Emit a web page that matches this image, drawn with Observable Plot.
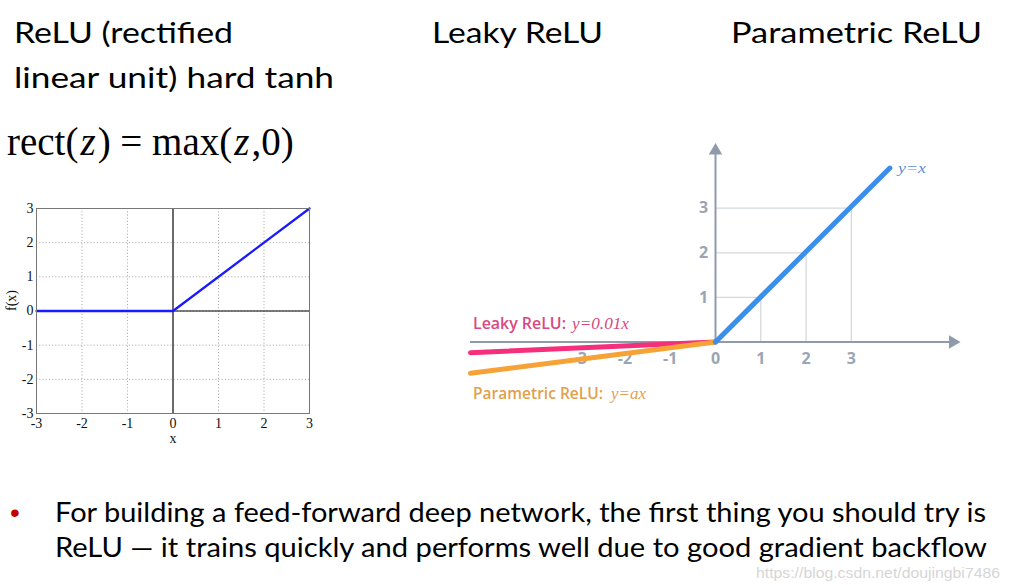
<!DOCTYPE html>
<html><head><meta charset="utf-8">
<script src="https://cdn.jsdelivr.net/npm/d3@7"></script>
<script src="https://cdn.jsdelivr.net/npm/@observablehq/plot@0.6"></script>
<style>
html,body{margin:0;padding:0;background:#fff;}
#slide{position:relative;width:1012px;height:585px;overflow:hidden;background:#fff;}
#slide > svg{position:absolute;margin:0;}
</style></head><body><div id="slide"></div>
<script>
// ---- data ----
const reluX = [-3, 0, 3];
const reluY = [0, 0, 3];
const reluTicks = [-3, -2, -1, 0, 1, 2, 3];

const identityX = [0, 3.85];
const identityY = [0, 3.9];
const leakyX = [-5.41, 0];
const leakyY = [-0.24, 0];
const paramX = [-5.41, 0];
const paramY = [-0.70, 0];
const guideVals = [1, 2, 3];
const xTickLabels = [-3, -2, -1, 0, 1, 2, 3];
const yTickLabels = [1, 2, 3];

const titles = ["ReLU (rectified", "linear unit) hard tanh", "Leaky ReLU", "Parametric ReLU"];
const bulletLines = [
  "For building a feed-forward deep network, the first thing you should try is",
  "ReLU \u2014 it trains quickly and performs well due to good gradient backflow"
];

const slide = document.getElementById("slide");
const pts = (xs, ys) => xs.map((x, i) => ({x, y: ys[i]}));

// ---- left chart: ReLU ----
const left = Plot.plot({
  width: 330, height: 260,
  marginLeft: 36, marginRight: 21, marginTop: 13, marginBottom: 42,
  style: {fontFamily: "'Liberation Serif', serif", fontSize: "14px", color: "#111", background: "transparent", overflow: "visible"},
  x: {domain: [-3, 3]},
  y: {domain: [-3, 3]},
  marks: [
    Plot.gridX(reluTicks, {stroke: "#b0b0b0", strokeOpacity: 1, strokeDasharray: "1.2,2"}),
    Plot.gridY(reluTicks, {stroke: "#b0b0b0", strokeOpacity: 1, strokeDasharray: "1.2,2"}),
    Plot.ruleY([0], {x1: 0, x2: 3, stroke: "#000", strokeWidth: 1}),
    Plot.ruleX([0], {stroke: "#6a6a6a", strokeWidth: 2}),
    Plot.line(pts(reluX, reluY), {x: "x", y: "y", stroke: "#1a1aff", strokeWidth: 2.3}),
    Plot.frame({stroke: "#777"}),
    Plot.axisX(reluTicks, {tickSize: 0, tickPadding: 5, tickFormat: d => String(d), label: null, fontSize: 14}),
    Plot.axisY(reluTicks, {tickSize: 0, tickPadding: 3, tickFormat: d => String(d), label: null, fontSize: 14}),
    Plot.text(["x"], {text: d => d, frameAnchor: "bottom", dy: 29, fontSize: 14}),
    Plot.text(["f(x)"], {text: d => d, frameAnchor: "left", dx: -25, rotate: -90, fontSize: 14})
  ]
});
left.style.left = "0px"; left.style.top = "195px";
slide.appendChild(left);

// ---- right chart: Leaky / Parametric ReLU ----
const axisGray = "#8f9bab";
const labelGray = "#9aa5b3";
const right = Plot.plot({
  width: 540, height: 280,
  style: {fontFamily: "'Open Sans', sans-serif", background: "transparent", overflow: "visible"},
  x: {domain: [-5.41, 5.41], range: [10, 500], axis: null},
  y: {domain: [-1, 4.46], range: [256.1, 12.6], axis: null},
  marks: [
    Plot.ruleX(guideVals, {x: d => d, y1: 0, y2: d => d, stroke: "#d5d8dc", strokeWidth: 1.3}),
    Plot.ruleY(guideVals, {y: d => d, x1: 0, x2: d => d, stroke: "#d5d8dc", strokeWidth: 1.3}),
    Plot.ruleY([0], {x1: -5.41, x2: 5.2, stroke: axisGray, strokeWidth: 2}),
    Plot.ruleX([0], {y1: 0, y2: 4.25, stroke: axisGray, strokeWidth: 2}),
    Plot.dot([4.29], {x: 0, y: d => d, symbol: "triangle", r: 5, fill: axisGray, stroke: "none"}),
    Plot.dot([5.24], {x: d => d, y: 0, symbol: "triangle", r: 5, rotate: 90, fill: axisGray, stroke: "none"}),
    Plot.text(xTickLabels, {x: d => d, y: 0, dy: 17, text: d => String(d), fill: labelGray, fontSize: 16, fontWeight: 700}),
    Plot.text(yTickLabels, {x: 0, y: d => d, dx: -12, text: d => String(d), fill: labelGray, fontSize: 16, fontWeight: 700}),
    Plot.line(pts(leakyX, leakyY), {x: "x", y: "y", stroke: "#f52f7b", strokeWidth: 5}),
    Plot.line(pts(paramX, paramY), {x: "x", y: "y", stroke: "#f7a236", strokeWidth: 5}),
    Plot.line(pts(identityX, identityY), {x: "x", y: "y", stroke: "#3b8ee9", strokeWidth: 5})
  ]
});
right.style.left = "460px"; right.style.top = "130px";
slide.appendChild(right);

// ---- slide text overlay ----
const svg = d3.select(slide).append("svg")
  .attr("width", 1012).attr("height", 585)
  .style("left", "0px").style("top", "0px").style("pointer-events", "none");

function put(x, y, w, parts, attrs) {
  const t = svg.append("text").attr("x", x).attr("y", y);
  for (const [k, v] of Object.entries(attrs)) t.attr(k, v);
  if (w) t.attr("textLength", w).attr("lengthAdjust", "spacingAndGlyphs");
  for (const p of parts) {
    const s = t.append("tspan").text(p.t);
    if (p.i) s.style("font-style", "italic");
    if (p.dx) s.attr("dx", p.dx);
  }
  return t;
}
const sans = "Lato, 'Open Sans', sans-serif";
const title = {"font-family": sans, "font-size": 28, fill: "#000"};
put(14, 43, 219, [{t: titles[0]}], title);
put(14, 88, 320, [{t: titles[1]}], title);
put(432, 43, 171, [{t: titles[2]}], title);
put(731, 43, 251, [{t: titles[3]}], title);

put(7, 155, null, [{t: "rect("}, {t: "z", i: 1, dx: 2}, {t: ") = max(", dx: 2}, {t: "z", i: 1, dx: 2}, {t: ",0)", dx: 2}],
  {"font-family": "'Liberation Serif', serif", "font-size": 39, fill: "#000"});

// annotations of right chart
put(473, 329, 93, [{t: "Leaky ReLU:"}], {"font-family": "'Open Sans', sans-serif", "font-weight": 600, "font-size": 15.5, fill: "#d9487f"});
put(572, 329, 57, [{t: "y=0.01x"}], {"font-family": "'Liberation Serif', serif", "font-style": "italic", "font-size": 16, fill: "#d9487f"});
put(473, 399, 130, [{t: "Parametric ReLU:"}], {"font-family": "'Open Sans', sans-serif", "font-weight": 600, "font-size": 15.5, fill: "#e29f4e"});
put(611, 399, 35, [{t: "y=ax"}], {"font-family": "'Liberation Serif', serif", "font-style": "italic", "font-size": 16, fill: "#e29f4e"});
put(898, 173, 28, [{t: "y=x"}], {"font-family": "'Liberation Serif', serif", "font-style": "italic", "font-size": 15, fill: "#5a8fd6"});

// bullet text
put(10, 522, null, [{t: "\u2022"}], {"font-family": "'Liberation Sans', sans-serif", "font-size": 28, fill: "#c00000"});
put(55, 522, 931, [{t: bulletLines[0]}], {"font-family": sans, "font-size": 26, fill: "#000"});
put(55, 557, 932, [{t: bulletLines[1]}], {"font-family": sans, "font-size": 26, fill: "#000"});

// watermark
put(756, 578, 244, [{t: "https://blog.csdn.net/doujingbi7486"}], {"font-family": "'Liberation Sans', sans-serif", "font-size": 14, fill: "#d6d6d6"});
</script></body></html>
